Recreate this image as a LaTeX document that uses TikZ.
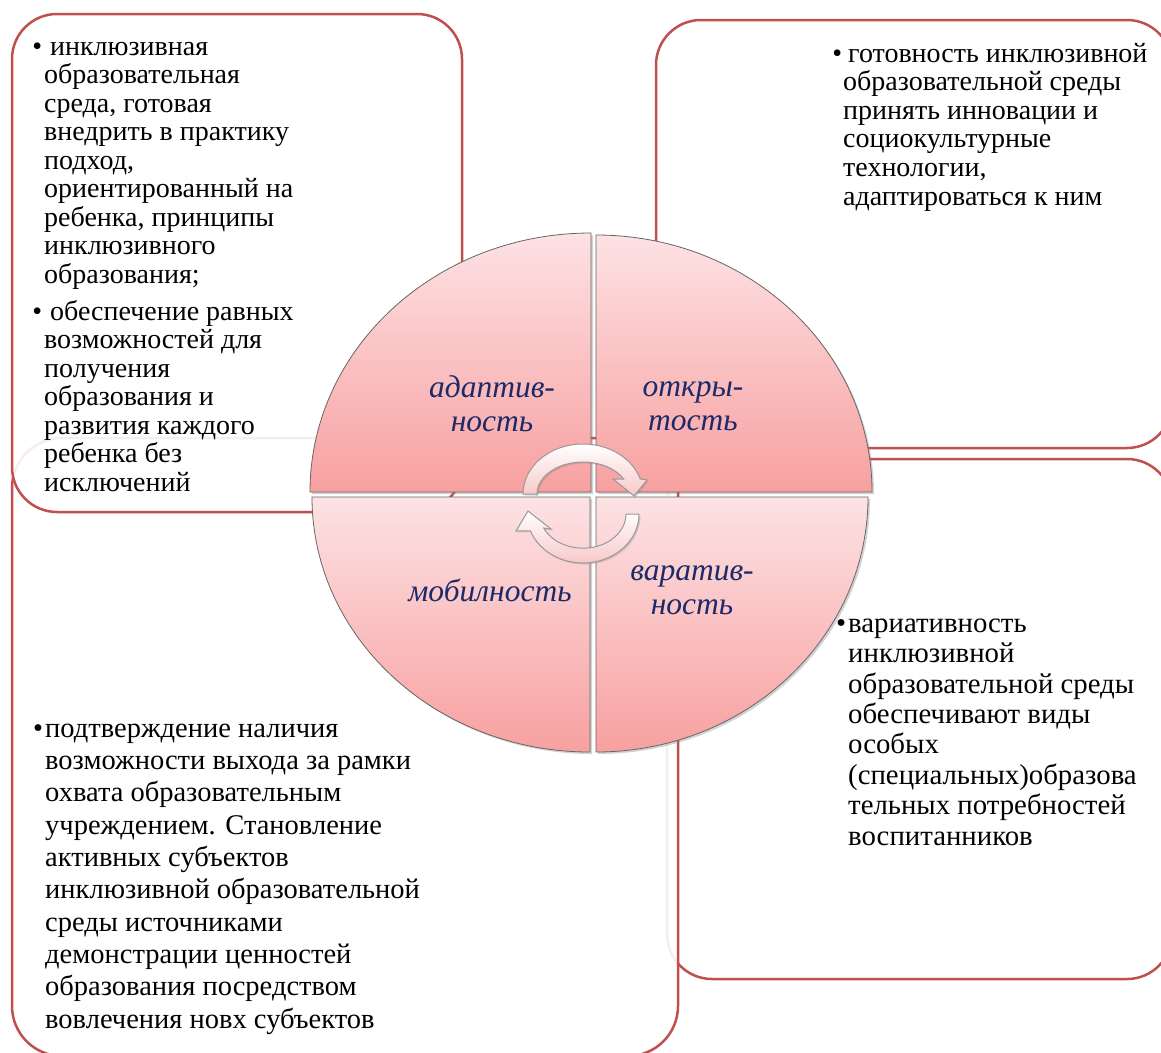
\documentclass[tikz,border=0pt]{standalone}
\usepackage{fontspec}
\setmainfont{Liberation Serif}
\usepackage{tikz}
\usetikzlibrary{shadows}

\definecolor{boxred}{RGB}{192,80,77}
\definecolor{quartop}{RGB}{253,226,228}
\definecolor{quarbot}{RGB}{248,160,160}
\definecolor{labelblue}{RGB}{28,42,105}
\definecolor{arrowpink}{RGB}{248,200,200}

\tikzstyle{infobox} = [draw=boxred, line width=2.5pt, fill=white, fill opacity=0.9, rounded corners=45pt]
\tikzstyle{quarter} = [draw=gray!80!black, line width=0.8pt, top color=quartop, bottom color=quarbot, drop shadow={shadow xshift=2pt, shadow yshift=-2pt, opacity=0.35}]
\tikzstyle{cyclearrow} = [draw=gray!80, line width=1pt, top color=white, bottom color=arrowpink, drop shadow={shadow xshift=1.5pt, shadow yshift=-1.5pt, opacity=0.3}]
\tikzstyle{boxtext} = [anchor=base west, align=left, inner sep=0pt]
\tikzstyle{quartext} = [align=center, inner sep=0pt, text=labelblue, font=\fontsize{31.5}{34}\selectfont\itshape]

\newcommand{\itembul}[1]{\makebox[0pt][r]{\textbullet\hspace{#1}}}

\begin{document}
\begin{tikzpicture}[x=1pt, y=-1pt]
\useasboundingbox (0,0) rectangle (1161,1052);
\clip (0,0) rectangle (1161,1052);

% Define the boxes
\draw [infobox] (667,459) rectangle (1172,979);
\draw [infobox, rounded corners=50pt] (12,438) rectangle (678,1056);
\draw [infobox] (656,20) rectangle (1172,448);
\draw [infobox] (12,14) rectangle (462,512);

% Box texts (placed at the baseline of their last line)
\node (adapttext) [boxtext, font=\fontsize{28}{28.5}\selectfont] at (44,491) {%
\itembul{2pt}\hspace{6pt}инклюзивная\\
образовательная\\
среда, готовая\\
внедрить в практику\\
подход,\\
ориентированный на\\
ребенка, принципы\\
инклюзивного\\
образования;\\[8.5pt]
\itembul{2pt}\hspace{6pt}обеспечение равных\\
возможностей для\\
получения\\
образования и\\
развития каждого\\
ребенка без\\
исключений};
\node (opentext) [boxtext, font=\fontsize{28}{28.6}\selectfont] at (843,205) {%
\itembul{1pt}\hspace{5pt}готовность инклюзивной\\
образовательной среды\\
принять инновации и\\
социокультурные\\
технологии,\\
адаптироваться к ним};
\node (mobiltext) [boxtext, font=\fontsize{28.5}{32.3}\selectfont] at (45,1028) {%
\itembul{2pt}подтверждение наличия\\
возможности выхода за рамки\\
охвата образовательным\\
учреждением. Становление\\
активных субъектов\\
инклюзивной образовательной\\
среды источниками\\
демонстрации ценностей\\
образования посредством\\
вовлечения новх субъектов};
\node (varitext) [boxtext, font=\fontsize{28.8}{30.4}\selectfont] at (848,845) {%
\itembul{2pt}вариативность\\
инклюзивной\\
образовательной среды\\
обеспечивают виды\\
особых\\
(специальных)образова\\
тельных потребностей\\
воспитанников};

% Draw the circle quarters
\path [quarter] (591,492) -- ++(180:281 and 259) arc[start angle=180, end angle=270, x radius=281, y radius=259] -- cycle;
\path [quarter] (596,492) -- ++(270:276 and 257) arc[start angle=270, end angle=360, x radius=276, y radius=257] -- cycle;
\path [quarter] (596,497) -- ++(0:272 and 255) arc[start angle=0, end angle=90, x radius=272, y radius=255] -- cycle;
\path [quarter] (590,497) -- ++(90:278 and 255) arc[start angle=90, end angle=180, x radius=278, y radius=255] -- cycle;

\node (adapt) [quartext] at (492,404) {адаптив-\\ность};
\node (open) [quartext] at (693,406) {откры-\\тость};
\node (mobil) [quartext] at (490,590) {мобилность};
\node (vari) [quartext] at (692,590) {варатив-\\ность};

% Draw the arrows
\path [cyclearrow] (537,494) -- (523,494) arc[start angle=180, end angle=342.5, x radius=60, y radius=50] -- (647,480) -- (634,496) -- (613,479) -- (623.6,479) arc[start angle=332, end angle=180, x radius=46, y radius=32] -- cycle;
\path [cyclearrow] (626,514) -- (639,514) arc[start angle=0, end angle=160, x radius=56, y radius=49] -- (516,531) -- (528,511) -- (551,529) -- (543.7,528) arc[start angle=156, end angle=0, x radius=43, y radius=34] -- cycle;

\end{tikzpicture}
\end{document}
